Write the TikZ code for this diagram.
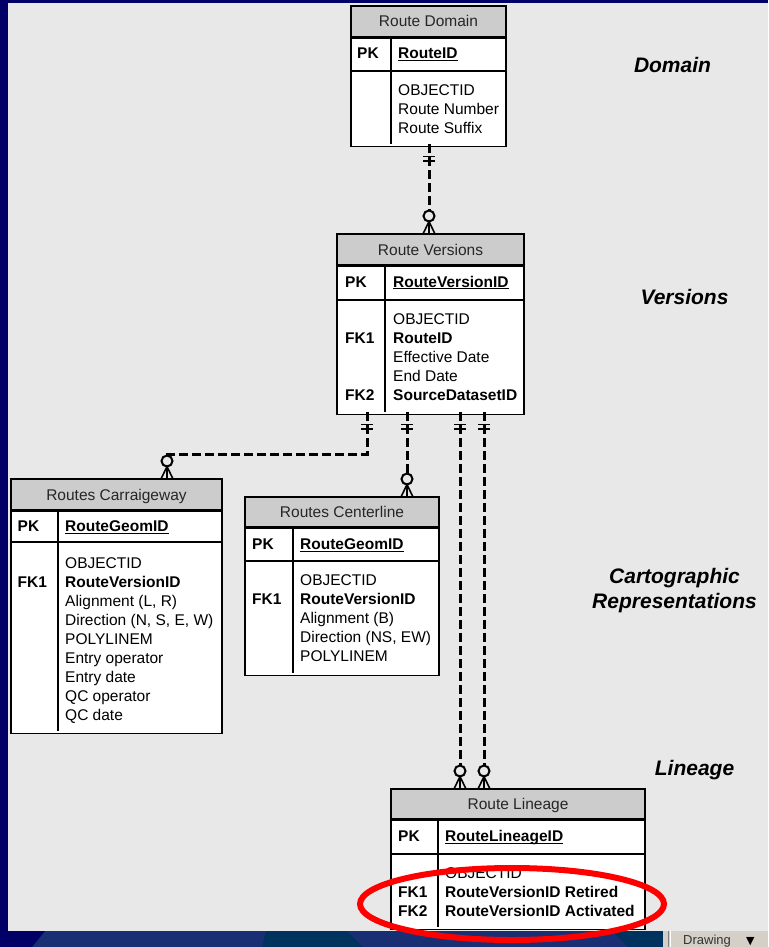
\documentclass[tikz,border=0pt]{standalone}
\usepackage{fontspec}
\setmainfont{Liberation Sans}
\newfontfamily\arrowfont{DejaVu Sans}
\definecolor{slidenavy}{RGB}{0,0,102}
\definecolor{slidegray}{RGB}{232,232,232}
\definecolor{headgray}{RGB}{204,204,204}
\definecolor{barblue}{RGB}{24,48,115}
\definecolor{barteal}{RGB}{0,50,96}
\definecolor{toolgray}{RGB}{212,208,200}
\definecolor{ringred}{RGB}{255,0,0}
\newcommand{\pkey}[1]{\textbf{\underline{\smash{#1}}}}
\begin{document}
\begin{tikzpicture}[x=1pt,y=-1pt]
\tikzset{every node/.style={inner sep=0pt, font=\fontsize{15.5}{19}\selectfont}}
\tikzset{onebar/.pic={\draw[line width=1.8pt] (-6,12.5) -- (6,12.5) (-6,17) -- (6,17);},
  crowfoot/.pic={\draw[line width=2pt] (0,-18) circle[radius=5.5pt];
    \draw[line width=1.6pt] (-6,0) -- (0,-12.5) -- (6,0) (0,-12.5) -- (0,0);}}
\tikzstyle{tblhead}=[draw=black, line width=1.3pt, fill=headgray, text=black!85, text height=11pt, text depth=0pt]
\tikzstyle{tblcell}=[draw=black, line width=1.3pt, fill=white]
\tikzstyle{tblrule}=[line width=1.3pt]
\tikzstyle{keycol}=[anchor=west, font=\fontsize{15.5}{19}\selectfont\bfseries, text height=11pt, text depth=0pt]
\tikzstyle{attrcol}=[anchor=west, text height=11pt, text depth=0pt]
\tikzstyle{sidelabel}=[font=\fontsize{21}{26}\selectfont\bfseries\itshape, text height=15pt, text depth=0pt]
\tikzstyle{rel}=[line width=3pt, dash pattern=on 9pt off 4pt]
\useasboundingbox (0,0) rectangle (768,947);
% slide
\fill[slidenavy] (0,0) rectangle (768,947);
\fill[slidegray] (8,3) rectangle (768,931);
\fill[barblue] (0,931) rectangle (663,947);
\fill[slidenavy] (0,931) -- (45,931) -- (32,947) -- (0,947) -- cycle;
\fill[barteal] (266,931) -- (347,931) -- (363,947) -- (262,947) -- cycle;
\fill[barteal] (612,931) -- (663,931) -- (663,947) -- (628,947) -- cycle;
\fill[toolgray] (663,931) rectangle (768,947);
\draw[gray, line width=1pt] (668,931) -- (668,947);
\draw[white, line width=1pt] (670.5,931) -- (670.5,947);
\node[anchor=base west, font=\fontsize{13}{15}\selectfont, text=black!80] (drawing-menu) at (683,944) {Drawing};
\node[anchor=base west, font=\arrowfont\fontsize{11}{13}\selectfont] (drawing-arrow) at (746,944) {▼};
% tables
\node[tblhead, minimum width=155pt, minimum height=31pt] (domain) at (428.5,21.5) {Route Domain};
\node[tblcell, minimum width=155pt, minimum height=32pt, anchor=north] (domain-pk) at (domain.south) {};
\node[tblcell, minimum width=155pt, minimum height=75pt, anchor=north] (domain-body) at (domain-pk.south) {};
\draw[tblrule] (391,37) -- (391,144);
\node[keycol] (domain-k0) at (357,53) {PK};
\node[attrcol] (domain-id) at (398,53) {\pkey{RouteID}};
\foreach \t [count=\i from 0] in {OBJECTID, Route Number, Route Suffix}
  \node[attrcol] (domain-a\i) at (398,90+19*\i) {\t};

\node[tblhead, minimum width=187pt, minimum height=31pt] (versions) at (430.5,249.5) {Route Versions};
\node[tblcell, minimum width=187pt, minimum height=33pt, anchor=north] (versions-pk) at (versions.south) {};
\node[tblcell, minimum width=187pt, minimum height=114pt, anchor=north] (versions-body) at (versions-pk.south) {};
\draw[tblrule] (385,265) -- (385,412);
\node[keycol] (versions-k0) at (345,281.5) {PK};
\node[keycol] (versions-k1) at (345,338) {FK1};
\node[keycol] (versions-k2) at (345,395) {FK2};
\node[attrcol] (versions-id) at (393,281.5) {\pkey{RouteVersionID}};
\foreach \t [count=\i from 0] in {OBJECTID, \textbf{RouteID}, Effective Date, End Date, \textbf{SourceDatasetID}}
  \node[attrcol] (versions-a\i) at (393,319+19*\i) {\t};

\node[tblhead, minimum width=211pt, minimum height=31pt] (carriage) at (116.5,494.5) {Routes Carraigeway};
\node[tblcell, minimum width=211pt, minimum height=30pt, anchor=north] (carriage-pk) at (carriage.south) {};
\node[tblcell, minimum width=211pt, minimum height=191pt, anchor=north] (carriage-body) at (carriage-pk.south) {};
\draw[tblrule] (58,510) -- (58,731);
\node[keycol] (carriage-k0) at (17.5,526) {PK};
\node[keycol] (carriage-k1) at (17.5,582) {FK1};
\node[attrcol] (carriage-id) at (65,526) {\pkey{RouteGeomID}};
\foreach \t [count=\i from 0] in {OBJECTID, \textbf{RouteVersionID}, {Alignment (L, R)}, {Direction (N, S, E, W)}, POLYLINEM, Entry operator, Entry date, QC operator, QC date}
  \node[attrcol] (carriage-a\i) at (65,563+19*\i) {\t};

\node[tblhead, minimum width=194pt, minimum height=30pt] (centre) at (342,512) {Routes Centerline};
\node[tblcell, minimum width=194pt, minimum height=32pt, anchor=north] (centre-pk) at (centre.south) {};
\node[tblcell, minimum width=194pt, minimum height=114pt, anchor=north] (centre-body) at (centre-pk.south) {};
\draw[tblrule] (293,527) -- (293,673);
\node[keycol] (centre-k0) at (252,544) {PK};
\node[keycol] (centre-k1) at (252,599) {FK1};
\node[attrcol] (centre-id) at (300,544) {\pkey{RouteGeomID}};
\foreach \t [count=\i from 0] in {OBJECTID, \textbf{RouteVersionID}, Alignment (B), {Direction (NS, EW)}, POLYLINEM}
  \node[attrcol] (centre-a\i) at (300,580+19*\i) {\t};

\node[tblhead, minimum width=254pt, minimum height=30pt] (lineage) at (518,804) {Route Lineage};
\node[tblcell, minimum width=254pt, minimum height=33pt, anchor=north] (lineage-pk) at (lineage.south) {};
\node[tblcell, minimum width=254pt, minimum height=75pt, anchor=north] (lineage-body) at (lineage-pk.south) {};
\draw[tblrule] (438,819) -- (438,927);
\node[keycol] (lineage-k0) at (398,836) {PK};
\node[keycol] (lineage-k1) at (398,892) {FK1};
\node[keycol] (lineage-k2) at (398,911) {FK2};
\node[attrcol] (lineage-id) at (445,836) {\pkey{RouteLineageID}};
\foreach \t [count=\i from 0] in {OBJECTID, \textbf{RouteVersionID Retired}, \textbf{RouteVersionID Activated}}
  \node[attrcol] (lineage-a\i) at (445,873+19*\i) {\t};
% side labels
\node[sidelabel] (lbl-domain) at (672.5,65) {Domain};
\node[sidelabel] (lbl-versions) at (684.5,297) {Versions};
\node[sidelabel] (lbl-carto) at (674.5,575.5) {Cartographic};
\node[sidelabel] (lbl-repr) at (674.5,600.5) {Representations};
\node[sidelabel] (lbl-lineage) at (694.5,768) {Lineage};
% relationships
\coordinate (domain-out) at (429,144);
\coordinate (versions-in) at (429,234);
\coordinate (versions-out1) at (367,412);
\coordinate (versions-out2) at (407,412);
\coordinate (versions-out3) at (460,412);
\coordinate (versions-out4) at (484,412);
\coordinate (carriage-in) at (167,479);
\coordinate (centre-in) at (407,497);
\coordinate (lineage-in1) at (460,789);
\coordinate (lineage-in2) at (484,789);
\draw[rel] (domain-out) -- ([yshift=23.5pt]versions-in);
\draw[rel] (versions-out1) -- ++(0,42) -| ([yshift=23.5pt]carriage-in);
\draw[rel] (versions-out2) -- ([yshift=23.5pt]centre-in);
\draw[rel] (versions-out3) -- ([yshift=23.5pt]lineage-in1);
\draw[rel] (versions-out4) -- ([yshift=23.5pt]lineage-in2);
\foreach \p in {domain-out, versions-out1, versions-out2, versions-out3, versions-out4}
  \pic at (\p) {onebar};
\foreach \p in {versions-in, carriage-in, centre-in, lineage-in1, lineage-in2}
  \pic at (\p) {crowfoot};
% highlight
\draw[ringred, line width=6pt] (512,904) ellipse[x radius=152pt, y radius=36pt];
\end{tikzpicture}
\end{document}
